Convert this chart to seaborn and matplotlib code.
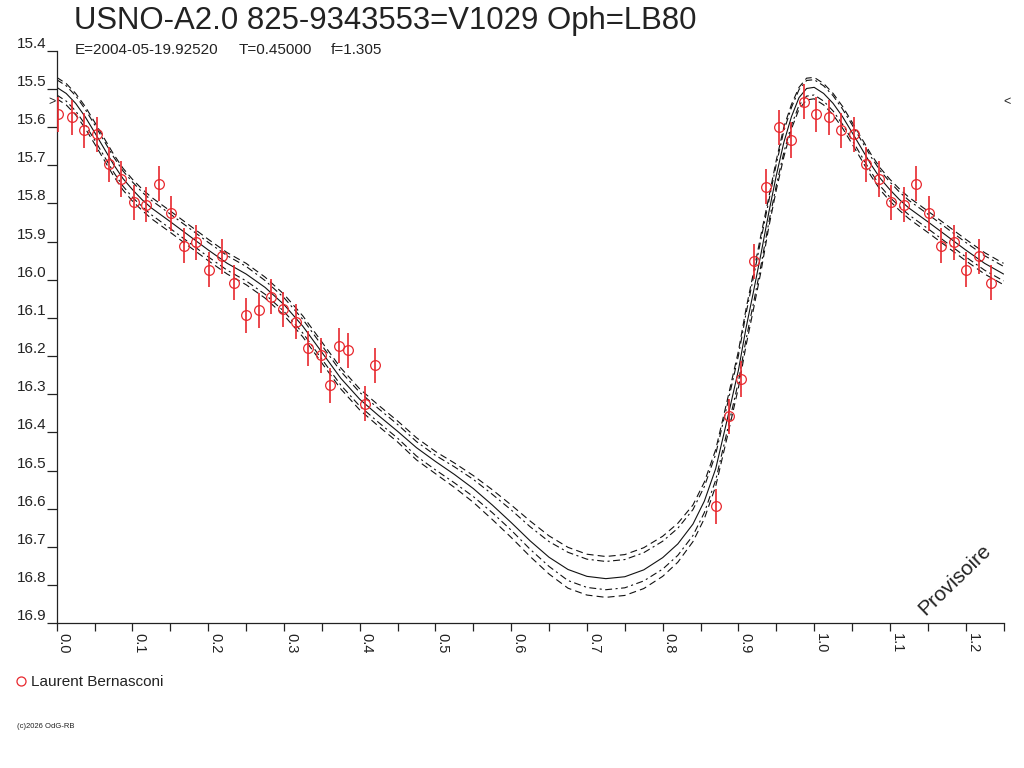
import matplotlib
matplotlib.use('Agg')
import matplotlib.pyplot as plt
from matplotlib.lines import Line2D
from matplotlib.ticker import MultipleLocator
import numpy as np
import pandas as pd
import seaborn as sns

# Observations (phase, magnitude), Laurent Bernasconi
obs_phase = [0.002, 0.020, 0.036, 0.053, 0.069, 0.085, 0.102, 0.118, 0.135, 0.151,
             0.168, 0.184, 0.201, 0.218, 0.234, 0.250, 0.267, 0.283, 0.299, 0.316,
             0.332, 0.349, 0.361, 0.373, 0.384, 0.407, 0.420,
             0.871, 0.887, 0.904, 0.921, 0.937, 0.953, 0.970, 0.986]
obs_mag = [15.567, 15.574, 15.608, 15.619, 15.697, 15.736, 15.797, 15.803, 15.749, 15.826,
           15.911, 15.902, 15.974, 15.939, 16.008, 16.093, 16.080, 16.044, 16.077, 16.110,
           16.180, 16.198, 16.276, 16.173, 16.185, 16.325, 16.224,
           16.594, 16.358, 16.260, 15.952, 15.756, 15.601, 15.634, 15.534]
obs_err = 0.046

# Fitted light curve (one cycle) and its envelopes
curve_phase = [0.0, 0.0125, 0.025, 0.0375, 0.05, 0.0625, 0.075, 0.0875, 0.1, 0.1125,
               0.125, 0.15, 0.175, 0.2, 0.225, 0.25, 0.275, 0.3, 0.325, 0.35,
               0.375, 0.4, 0.425, 0.45, 0.475, 0.5, 0.525, 0.55, 0.575, 0.6,
               0.625, 0.65, 0.675, 0.7, 0.725, 0.75, 0.775, 0.8, 0.82, 0.84,
               0.855, 0.87, 0.885, 0.9, 0.91, 0.92, 0.93, 0.94, 0.95, 0.96,
               0.97, 0.98, 0.99]
curve_mag = [15.496, 15.512, 15.538, 15.573, 15.614, 15.656, 15.698, 15.735, 15.764, 15.790,
             15.812, 15.848, 15.885, 15.922, 15.957, 15.985, 16.020, 16.065, 16.122, 16.190,
             16.258, 16.313, 16.356, 16.397, 16.440, 16.476, 16.510, 16.547, 16.590, 16.636,
             16.684, 16.727, 16.759, 16.777, 16.783, 16.778, 16.760, 16.728, 16.692, 16.640,
             16.580, 16.495, 16.368, 16.237, 16.127, 16.030, 15.930, 15.825, 15.727, 15.640,
             15.573, 15.523, 15.499]
up_outer = [-0.026, -0.026, -0.026, -0.027, -0.027, -0.027, -0.027, -0.027, -0.027, -0.028,
            -0.028, -0.028, -0.028, -0.028, -0.028, -0.028, -0.027, -0.027, -0.027, -0.027,
            -0.027, -0.027, -0.027, -0.027, -0.026, -0.026, -0.030, -0.034, -0.040, -0.046,
            -0.052, -0.056, -0.058, -0.058, -0.058, -0.058, -0.058, -0.056, -0.054, -0.050,
            -0.050, -0.050, -0.050, -0.050, -0.050, -0.050, -0.050, -0.040, -0.040, -0.040,
            -0.032, -0.027, -0.027]
up_inner = [-0.020, -0.020, -0.020, -0.020, -0.020, -0.020, -0.020, -0.020, -0.020, -0.020,
            -0.020, -0.020, -0.020, -0.020, -0.020, -0.020, -0.018, -0.018, -0.018, -0.018,
            -0.018, -0.018, -0.018, -0.018, -0.016, -0.016, -0.020, -0.024, -0.028, -0.033,
            -0.037, -0.041, -0.045, -0.045, -0.045, -0.045, -0.045, -0.043, -0.041, -0.038,
            -0.038, -0.038, -0.038, -0.038, -0.038, -0.038, -0.038, -0.030, -0.030, -0.030,
            -0.024, -0.021, -0.021]
lo_inner = [0.020, 0.020, 0.020, 0.020, 0.020, 0.020, 0.020, 0.020, 0.020, 0.018,
            0.018, 0.018, 0.018, 0.018, 0.018, 0.018, 0.018, 0.018, 0.018, 0.018,
            0.018, 0.018, 0.018, 0.018, 0.022, 0.022, 0.022, 0.021, 0.020, 0.020,
            0.022, 0.024, 0.029, 0.029, 0.029, 0.029, 0.029, 0.030, 0.030, 0.030,
            0.030, 0.030, 0.030, 0.030, 0.030, 0.030, 0.030, 0.026, 0.026, 0.026,
            0.022, 0.020, 0.020]
lo_outer = [0.030, 0.030, 0.030, 0.030, 0.030, 0.030, 0.030, 0.030, 0.030, 0.028,
            0.028, 0.028, 0.028, 0.028, 0.028, 0.028, 0.028, 0.028, 0.028, 0.028,
            0.028, 0.028, 0.028, 0.028, 0.032, 0.032, 0.034, 0.036, 0.038, 0.039,
            0.041, 0.044, 0.049, 0.049, 0.049, 0.049, 0.049, 0.049, 0.048, 0.046,
            0.046, 0.046, 0.046, 0.046, 0.046, 0.046, 0.046, 0.038, 0.038, 0.038,
            0.032, 0.030, 0.030]

y_ticks = [15.4, 15.5, 15.6, 15.7, 15.8, 15.9, 16.0, 16.1, 16.2, 16.3,
           16.4, 16.5, 16.6, 16.7, 16.8, 16.9]
x_ticks = [0.0, 0.1, 0.2, 0.3, 0.4, 0.5, 0.6, 0.7, 0.8, 0.9, 1.0, 1.1, 1.2]
max_mark = 15.535

title = 'USNO-A2.0 825-9343553=V1029 Oph=LB80'
sub_texts = ['E=2004-05-19.92520', 'T=0.45000', 'f=1.305']
observer = 'Laurent Bernasconi'

RED = '#e8282e'
INK = '#222222'

# Repeat the start of the cycle after phase 1 (axis ends at 1.25)
curve = pd.DataFrame({'phase': curve_phase, 'mag': curve_mag, 'uo': up_outer,
                      'ui': up_inner, 'li': lo_inner, 'lo': lo_outer})
curve = pd.concat([curve, curve[curve.phase <= 0.25].assign(phase=lambda d: d.phase + 1)],
                  ignore_index=True)
obs = pd.DataFrame({'phase': obs_phase, 'mag': obs_mag})
obs = pd.concat([obs, obs[obs.phase < 0.245].assign(phase=lambda d: d.phase + 1)],
                ignore_index=True)

sns.set_theme(style='white')
plt.rcParams['font.family'] = ['Liberation Sans', 'DejaVu Sans']
plt.rcParams['lines.scale_dashes'] = False

fig = plt.figure(figsize=(10.24, 7.68), dpi=100)
ax = fig.add_axes([0.0554, 0.1884, 0.9246, 0.7456])

# Light curve and its envelopes
styles = [('mag', None, '-'),
          ('ui', 'mag', (0, (5, 2.5, 1.5, 2.5))),
          ('li', 'mag', (0, (5, 2.5, 1.5, 2.5))),
          ('uo', 'mag', (0, (5, 3))),
          ('lo', 'mag', (0, (5, 3)))]
for col, base, ls in styles:
    y = curve[col] if base is None else curve[base] + curve[col]
    sns.lineplot(x=curve['phase'], y=y, ax=ax, color='#111111', lw=0.8,
                 linestyle=ls, sort=False, estimator=None)

ax.errorbar(obs['phase'], obs['mag'], yerr=obs_err, fmt='o', ms=7, mfc='none',
            mec=RED, mew=0.9, ecolor=RED, elinewidth=1.2, capsize=0, zorder=3)

ax.set_xlim(0, 1.25)
ax.set_ylim(16.9, 15.4)
ax.set_xlabel('')
ax.set_ylabel('')
for side in ['top', 'right']:
    ax.spines[side].set_visible(False)
for side in ['left', 'bottom']:
    ax.spines[side].set_color(INK)
    ax.spines[side].set_linewidth(0.9)

ax.set_yticks(y_ticks)
ax.set_yticklabels([f'{v:.1f}' for v in y_ticks])
ax.set_xticks(x_ticks)
ax.set_xticklabels([f'{v:.1f}' for v in x_ticks])
ax.xaxis.set_minor_locator(MultipleLocator(0.05))
ax.tick_params(axis='y', direction='out', length=7.5, width=0.9, color=INK,
               labelsize=11, labelcolor=INK, pad=0, left=True)
ax.tick_params(axis='x', which='both', direction='out', length=6, width=0.9,
               color=INK, labelsize=10.5, labelcolor=INK, pad=1, bottom=True)
for lbl in ax.get_yticklabels():
    lbl.set_va('bottom')
for lbl in ax.get_xticklabels():
    lbl.set_rotation(-90)
    lbl.set_ha('left')
ax.grid(False)

# Max-light markers at both ends
ax.annotate('>', xy=(0, max_mark), xycoords=('axes fraction', 'data'),
            xytext=(-1, 0), textcoords='offset points', ha='right', va='center',
            fontsize=9, color=INK)
ax.annotate('<', xy=(1, max_mark), xycoords=('axes fraction', 'data'),
            xytext=(0, 0), textcoords='offset points', ha='left', va='center',
            fontsize=9, color=INK)

# Titles
fig.text(0.0725, 1 - 29.5 / 768, title, fontsize=22.4, color=INK, va='baseline')
for txt, xp in zip(sub_texts, [75, 239, 331]):
    fig.text(xp / 1024, 1 - 54 / 768, txt, fontsize=11, color=INK, va='baseline')

ax.text(0.932, 0.245, 'Provisoire', transform=fig.transFigure, rotation=44,
        ha='center', va='center', fontsize=15, color=INK)

handle = Line2D([], [], marker='o', ls='none', ms=6.5, mfc='none', mec=RED, mew=0.9)
fig.legend(handles=[handle], labels=[observer], loc='center left',
           bbox_to_anchor=(13 / 1024, 1 - 682 / 768), frameon=False,
           handlelength=1, handletextpad=0.2, borderpad=0, borderaxespad=0,
           fontsize=11, labelcolor=INK)

fig.text(17 / 1024, 1 - 728 / 768, '(c)2026 OdG-RB', fontsize=5.5, color=INK,
         va='baseline')

fig.savefig('out.png', dpi=100, facecolor='white')
